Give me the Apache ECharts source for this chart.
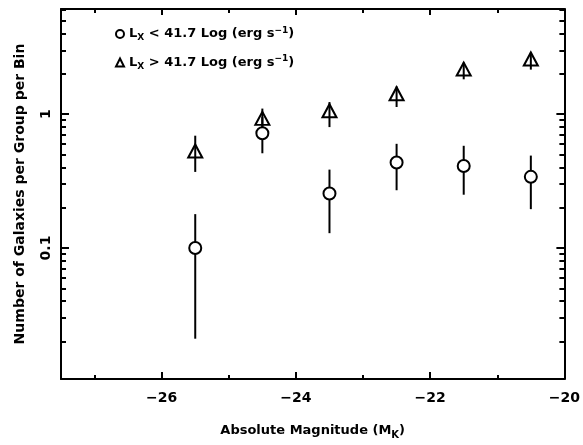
<!DOCTYPE html>
<html>
<head>
<meta charset="utf-8">
<script src="https://cdn.jsdelivr.net/npm/echarts@6/dist/echarts.min.js"></script>
<style>
  html, body { margin: 0; padding: 0; background: #fff; }
  #main { width: 583px; height: 445px; }
</style>
</head>
<body>
<div id="main"></div>
<script>
// absolute magnitude bins (M_K)
var magnitudes = [-25.5, -24.5, -23.5, -22.5, -21.5, -20.5];

// L_X < 41.7 groups
var lowLx = [0.1, 0.72, 0.255, 0.435, 0.41, 0.34];
var lowLxErrLow = [0.021, 0.51, 0.129, 0.27, 0.25, 0.195];
var lowLxErrHigh = [0.179, 0.95, 0.385, 0.6, 0.58, 0.49];

// L_X > 41.7 groups
var highLx = [0.53, 0.93, 1.06, 1.42, 2.17, 2.58];
var highLxErrLow = [0.37, 0.76, 0.8, 1.13, 1.82, 2.15];
var highLxErrHigh = [0.69, 1.1, 1.23, 1.61, 2.43, 2.88];

var xMajor = [-26, -24, -22, -20];
var xMinor = [-27, -25, -23, -21];
var yMajor = [0.1, 1];
var yMinor = [0.02, 0.03, 0.04, 0.05, 0.06, 0.07, 0.08, 0.09,
              0.2, 0.3, 0.4, 0.5, 0.6, 0.7, 0.8, 0.9,
              2, 3, 4, 5, 6];

var legendLabels = {
    lowLx: '{b|L}{s|X}{b| < 41.7 Log (erg s}{p|\u22121}{b|)}',
    highLx: '{b|L}{s|X}{b| > 41.7 Log (erg s}{p|\u22121}{b|)}'
};

var FONT = 'DejaVu Sans';

function pts(ys) {
    return magnitudes.map(function (m, i) { return [m, ys[i]]; });
}
function bars(lo, hi) {
    return magnitudes.map(function (m, i) { return [m, lo[i], hi[i]]; });
}

var myChart = echarts.init(document.getElementById('main'));

// frame axes: one set carries the major ticks, another the minor ones
function xAx(pos, ticks, len, main) {
    return {
        type: 'value', position: pos, min: -27.5, max: -20,
        axisLine: { show: !!main, onZero: false, lineStyle: { color: '#000', width: 2 } },
        axisTick: { show: true, inside: true, length: len, customValues: ticks,
                    lineStyle: { color: '#000', width: 2 } },
        axisLabel: { show: false },
        splitLine: { show: false }
    };
}
function yAx(pos, ticks, len, main) {
    return {
        type: 'log', position: pos, min: 0.0105, max: 6.1,
        axisLine: { show: !!main, onZero: false, lineStyle: { color: '#000', width: 2 } },
        axisTick: { show: true, inside: true, length: len, customValues: ticks,
                    lineStyle: { color: '#000', width: 2 } },
        axisLabel: { show: false },
        splitLine: { show: false }
    };
}

var xBottom = xAx('bottom', xMajor, 7, true);
xBottom.axisLabel = {
    show: true, customValues: xMajor, margin: 12,
    color: '#000', fontFamily: FONT, fontWeight: 'bold', fontSize: 14,
    formatter: function (v) { return v < 0 ? '\u2212' + Math.abs(v) : '' + v; }
};
xBottom.name = 'Absolute Magnitude (M{s|K})';
xBottom.nameLocation = 'middle';
xBottom.nameGap = 43;
xBottom.nameTextStyle = {
    color: '#000', fontFamily: FONT, fontWeight: 'bold', fontSize: 13,
    rich: { s: { fontFamily: FONT, fontWeight: 'bold', fontSize: 10, padding: [8, 0, 0, 0] } }
};

var yLeft = yAx('left', yMajor, 8, true);
yLeft.axisLabel = {
    show: true, customValues: yMajor, rotate: 90, margin: 8,
    color: '#000', fontFamily: FONT, fontWeight: 'bold', fontSize: 14,
    formatter: function (v) { return v >= 1 ? String(v) : v.toFixed(1); }
};
yLeft.name = 'Number of Galaxies per Group per Bin';
yLeft.nameLocation = 'middle';
yLeft.nameGap = 34;
yLeft.nameTextStyle = { color: '#000', fontFamily: FONT, fontWeight: 'bold', fontSize: 14 };

option = {
    backgroundColor: '#fff',
    animation: false,
    grid: { left: 61, right: 17, top: 9, bottom: 62 },
    legend: {
        orient: 'vertical',
        left: 110,
        top: 21,
        itemWidth: 8,
        itemHeight: 8,
        itemGap: 12,
        data: [{ name: 'lowLx', icon: 'circle' }, { name: 'highLx', icon: 'triangle' }],
        formatter: function (name) { return legendLabels[name]; },
        textStyle: {
            rich: {
                b: { fontFamily: FONT, fontWeight: 'bold', fontSize: 13, color: '#000' },
                s: { fontFamily: FONT, fontWeight: 'bold', fontSize: 9, color: '#000', padding: [8, 0, 0, 0] },
                p: { fontFamily: FONT, fontWeight: 'bold', fontSize: 9, color: '#000', padding: [0, 0, 7, 0] }
            }
        }
    },
    xAxis: [
        xBottom,
        xAx('bottom', xMinor, 4, false),
        xAx('top', xMajor, 6, true),
        xAx('top', xMinor, 4, false)
    ],
    yAxis: [
        yLeft,
        yAx('left', yMinor, 5, false),
        yAx('right', yMajor, 8, true),
        yAx('right', yMinor, 5, false)
    ],
    series: [
        {
            type: 'custom',
            name: 'errorBars',
            data: bars(lowLxErrLow, lowLxErrHigh).concat(bars(highLxErrLow, highLxErrHigh)),
            encode: { x: 0, y: [1, 2] },
            renderItem: function (params, api) {
                var lo = api.coord([api.value(0), api.value(1)]);
                var hi = api.coord([api.value(0), api.value(2)]);
                return {
                    type: 'line',
                    shape: { x1: lo[0], y1: lo[1], x2: hi[0], y2: hi[1] },
                    style: { stroke: '#000', lineWidth: 2 }
                };
            },
            z: 2
        },
        {
            name: 'lowLx',
            type: 'scatter',
            data: pts(lowLx),
            symbol: 'circle',
            symbolSize: 12,
            itemStyle: { color: '#fff', borderColor: '#000', borderWidth: 2, opacity: 1 },
            z: 3
        },
        {
            name: 'highLx',
            type: 'scatter',
            data: pts(highLx),
            symbol: 'triangle',
            symbolSize: [14, 13],
            itemStyle: { color: 'rgba(255,255,255,0)', borderColor: '#000', borderWidth: 2, opacity: 1 },
            z: 3
        }
    ]
};
myChart.setOption(option);
</script>
</body>
</html>
